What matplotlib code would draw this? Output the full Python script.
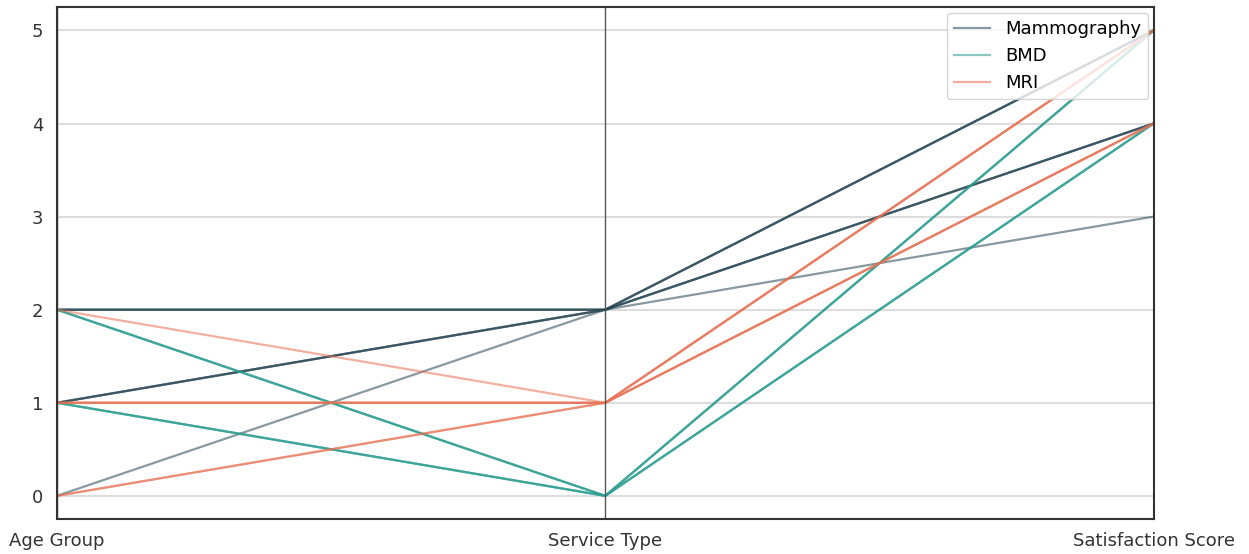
import matplotlib
matplotlib.use("Agg")
import matplotlib.pyplot as plt
import pandas as pd
from pandas.plotting import parallel_coordinates

plt.rcParams["font.family"] = ["DejaVu Sans"]

# survey rows: service code is alphabetical (BMD=0, MRI=1, Mammography=2)
service = ["Mammography"] * 7 + ["BMD"] * 6 + ["MRI"] * 6
age_group = [2, 2, 2, 1, 1, 1, 0,
             2, 2, 2, 1, 1, 1,
             2, 1, 1, 1, 0, 0]
service_code = [2, 2, 2, 2, 2, 2, 2,
                0, 0, 0, 0, 0, 0,
                1, 1, 1, 1, 1, 1]
satisfaction = [5, 5, 5, 4, 4, 4, 3,
                5, 5, 5, 4, 4, 4,
                5, 4, 4, 4, 5, 5]
palette = ["#264653", "#2a9d8f", "#e76f51"]

df = pd.DataFrame({"Age Group": age_group, "Service Type": service_code,
                   "Satisfaction Score": satisfaction, "Service": service})

fig = plt.figure(figsize=(12.49, 5.54), dpi=100)
ax = fig.add_axes([0.0456, 0.063, 0.878, 0.924])
parallel_coordinates(df, "Service", cols=["Age Group", "Service Type", "Satisfaction Score"],
                     color=palette, alpha=0.55, linewidth=1.6, ax=ax,
                     axvlines_kwds={"color": "#555555", "linewidth": 1})

ax.grid(False)
ax.yaxis.grid(True, color="#dddddd", linewidth=1.5)
ax.set_axisbelow(True)
for s in ax.spines.values():
    s.set_color("#333333")
    s.set_linewidth(1.5)
ax.tick_params(length=0, labelsize=13, colors="#333333", pad=10)
ax.tick_params(axis="x", pad=9)
ax.legend(loc="upper right", fontsize=13, framealpha=0.8, borderaxespad=0.3)

fig.savefig("out.png", dpi=100)
